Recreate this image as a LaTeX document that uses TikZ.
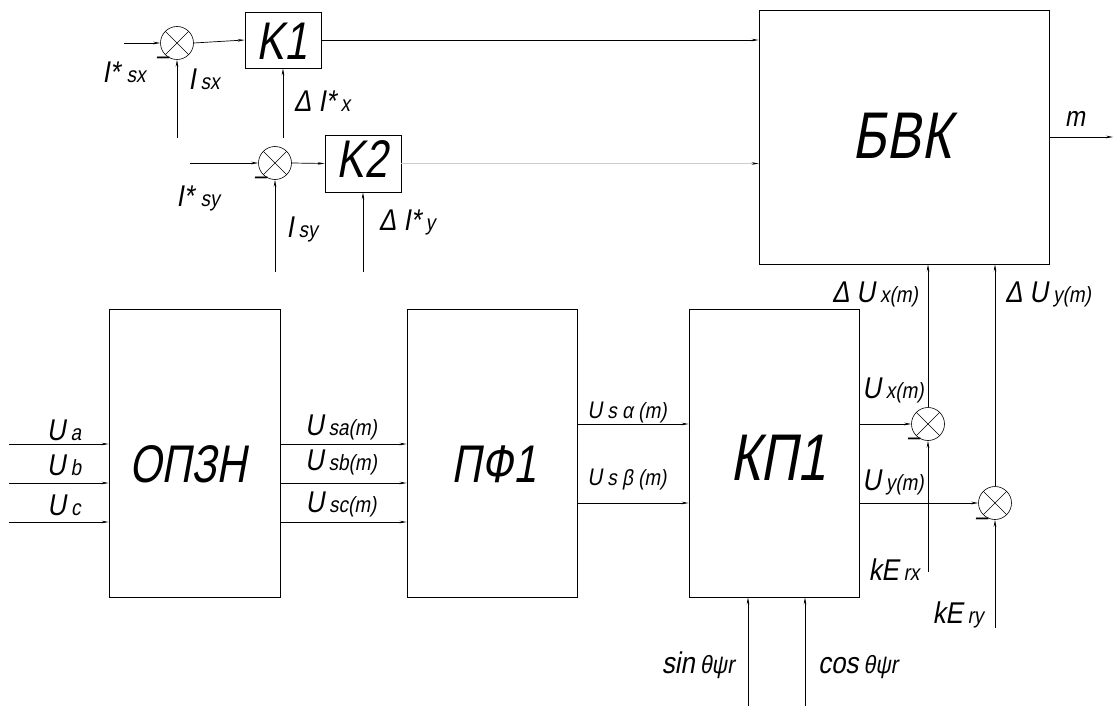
\documentclass[tikz,border=0pt]{standalone}
\usepackage{fontspec}
\newfontfamily\gost[FakeStretch=0.78,FakeSlant=0.18]{Liberation Sans}
\newfontfamily\gostl[FakeStretch=0.86,FakeSlant=0.18]{Liberation Sans}
\usetikzlibrary{arrows.meta}
\newcommand{\bigf}{\fontsize{30}{30}\selectfont}
\newcommand{\midf}{\fontsize{24}{24}\selectfont}
\newcommand{\smf}{\fontsize{22}{22}\selectfont}
\newcommand{\lbl}[2]{{\bigf #1}\hspace{5pt}{\smf #2}}
\newcommand{\lbm}[2]{{\midf #1}\hspace{5pt}{\smf #2}}
\begin{document}
\begin{tikzpicture}[x=1pt,y=-1pt,font=\gostl,
 blockbox/.style={draw,line width=0.7pt,inner sep=0pt},
 bigtext/.style={inner sep=0pt,anchor=base,font=\gost\fontsize{53}{53}\selectfont},
 hugetext/.style={inner sep=0pt,anchor=base,font=\gost\fontsize{66}{66}\selectfont},
 sumnode/.style={draw,circle,minimum size=33pt,inner sep=0pt,line width=0.6pt,
   path picture={\draw[line width=0.5pt] (path picture bounding box.north west)--(path picture bounding box.south east)
     (path picture bounding box.north east)--(path picture bounding box.south west);}},
 conn/.style={line width=0.7pt,-{Stealth[length=7pt,width=2.6pt]}},
 faint/.style={line width=0.7pt,draw=black!20,-{Stealth[length=7pt,width=2.6pt,color=black]}},
 lab/.style={inner sep=0pt,anchor=base},
 minus/.style={inner sep=0pt,font=\gostl\fontsize{26}{26}\selectfont}]
\useasboundingbox (0,0) rectangle (1114,706);
% blocks
\node[blockbox,minimum width=171pt,minimum height=288pt] (opzn) at (194.5,453) {};
\node[blockbox,minimum width=170pt,minimum height=288pt] (pf1) at (492,453) {};
\node[blockbox,minimum width=170pt,minimum height=288pt] (kp1) at (774,453) {};
\node[blockbox,minimum width=290pt,minimum height=254pt] (bvk) at (904,137) {};
\node[blockbox,minimum width=76pt,minimum height=56pt] (k1) at (283,40) {};
\node[blockbox,minimum width=76pt,minimum height=57pt] (k2) at (363,163.5) {};
\node[bigtext] (topzn) at (188,482) {ОПЗН};
\node[bigtext] (tpf1) at (494,482) {ПФ1};
\node[hugetext] (tkp1) at (778,480) {КП1};
\node[hugetext] (tbvk) at (902,158) {БВК};
\node[bigtext] (tk1) at (282,60) {K1};
\node[bigtext] (tk2) at (362,178) {K2};
% summers
\node[sumnode] (s1) at (177,43) {};
\node[sumnode] (s2) at (275,163) {};
\node[sumnode] (s3) at (928,424) {};
\node[sumnode] (s4) at (995,503) {};
% free ends
\coordinate (iSx) at (124,43);
\coordinate (fSx) at (177,138);
\coordinate (dIx) at (283,138);
\coordinate (iSy) at (190,163);
\coordinate (fSy) at (275,272);
\coordinate (dIy) at (363,272);
\coordinate (mOut) at (1113,137);
\coordinate (ua) at (9,444);
\coordinate (ub) at (9,483);
\coordinate (uc) at (9,522);
\coordinate (kx) at (928,572);
\coordinate (ky) at (995,628);
\coordinate (sn) at (748,706);
\coordinate (cs) at (805,706);
% connectors
\draw[conn] (iSx) -- (s1.west);
\draw[conn] (fSx) -- (s1.south);
\draw[conn] (s1.east) -- (k1.west);
\draw[conn] (k1.east) -- (k1.east -| bvk.west);
\draw[conn] (dIx) -- (k1.south);
\draw[conn] (iSy) -- (s2.west);
\draw[conn] (fSy) -- (s2.south);
\draw[conn] (s2.east) -- (k2.west);
\draw[conn] (dIy) -- (k2.south);
\draw[faint] (k2.east) -- (k2.east -| bvk.west);
\draw[conn] (bvk.east) -- (mOut);
\draw[conn] (ua) -- (ua -| opzn.west);
\draw[conn] (ub) -- (ub -| opzn.west);
\draw[conn] (uc) -- (uc -| opzn.west);
\draw[conn] (ua -| opzn.east) -- (ua -| pf1.west);
\draw[conn] (ub -| opzn.east) -- (ub -| pf1.west);
\draw[conn] (uc -| opzn.east) -- (uc -| pf1.west);
\draw[conn] (s3 -| pf1.east) -- (s3 -| kp1.west);
\draw[conn] (s4 -| pf1.east) -- (s4 -| kp1.west);
\draw[conn] (s3 -| kp1.east) -- (s3.west);
\draw[conn] (s4 -| kp1.east) -- (s4.west);
\draw[conn] (kx) -- (s3.south);
\draw[conn] (ky) -- (s4.south);
\draw[conn] (s3.north) -- (s3.north |- bvk.south);
\draw[conn] (s4.north) -- (s4.north |- bvk.south);
\draw[conn] (sn) -- (sn |- kp1.south);
\draw[conn] (cs) -- (cs |- kp1.south);
% minus signs
\node[minus] (m1) at (162,61) {–};
\node[minus] (m2) at (260,181) {–};
\node[minus] (m3) at (913,442) {–};
\node[minus] (m4) at (981,522) {–};
% labels
\node[lab] (lIsx) at (124,83) {\lbl{I*}{\hspace{2pt}sx}};
\node[lab] (lfsx) at (204,90) {\lbl{I}{sx}};
\node[lab] (ldIx) at (322,112) {\lbl{Δ I*}{x}};
\node[lab] (lIsy) at (198,207) {\lbl{I*}{\hspace{2pt}sy}};
\node[lab] (lfsy) at (302,237) {\lbl{I}{sy}};
\node[lab] (ldIy) at (407,230) {\lbl{Δ I*}{y}};
\node[lab] (lm) at (1075,127) {\fontsize{28}{28}\selectfont m};
\node[lab] (ldUx) at (875,302) {\lbl{Δ U}{x(m)}};
\node[lab] (ldUy) at (1048,302) {\lbl{Δ U}{y(m)}};
\node[lab] (lUa) at (64,440) {\lbl{U}{a}};
\node[lab] (lUb) at (64,475) {\lbl{U}{b}};
\node[lab] (lUc) at (64,515) {\lbl{U}{c}};
\node[lab] (lUsa) at (341,435) {\lbl{U}{sa(m)}};
\node[lab] (lUsb) at (341,470) {\lbl{U}{sb(m)}};
\node[lab] (lUsc) at (341,512) {\lbl{U}{sc(m)}};
\node[lab] (lUal) at (627,418) {\lbm{U}{s α (m)}};
\node[lab] (lUbe) at (627,485) {\lbm{U}{s β (m)}};
\node[lab] (lUx) at (893,398) {\lbl{U}{x(m)}};
\node[lab] (lUy) at (893,490) {\lbl{U}{y(m)}};
\node[lab] (lkx) at (894,580) {\lbl{kE}{rx}};
\node[lab] (lky) at (958,623) {\lbl{kE}{ry}};
\node[lab] (lsin) at (698,673) {{\bigf sin}\hspace{5pt}{\fontsize{25}{25}\selectfont θψr}};
\node[lab] (lcos) at (858,673) {{\bigf cos}\hspace{5pt}{\fontsize{25}{25}\selectfont θψr}};
\end{tikzpicture}
\end{document}
